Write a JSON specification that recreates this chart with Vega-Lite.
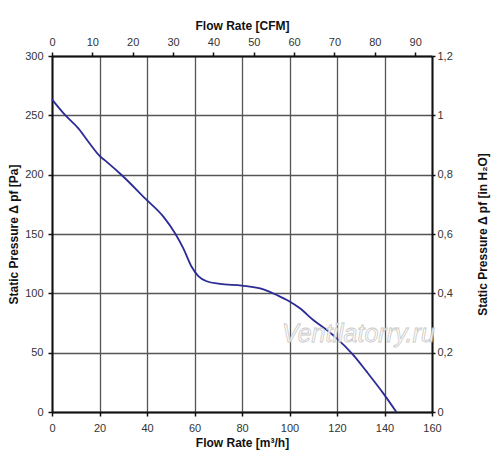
{
  "$schema": "https://vega.github.io/schema/vega-lite/v6.json",
  "autosize": "none",
  "padding": {"left": 52, "top": 56, "right": 68, "bottom": 58},
  "width": 380,
  "height": 356,
  "background": "white",
  "config": {
    "view": {"stroke": null},
    "font": "Liberation Sans",
    "axis": {
      "domainColor": "#111111",
      "domainWidth": 2,
      "tickColor": "#111111",
      "tickSize": 4,
      "tickWidth": 1.5,
      "labelFlush": false,
      "labelOverlap": false,
      "labelFont": "Liberation Sans",
      "labelFontSize": 11,
      "labelColor": "#333333",
      "titleFont": "Liberation Sans",
      "titleFontSize": 12,
      "titleFontWeight": "bold",
      "titleColor": "#111111",
      "gridColor": "#555555",
      "gridWidth": 1.3,
      "gridOpacity": 1
    }
  },
  "layer": [
    {
      "layer": [
        {
          "data": {
            "values": [
              {"q": 0, "p": 263.5},
              {"q": 5.5, "p": 250.3},
              {"q": 11.1, "p": 239},
              {"q": 15.3, "p": 227.8},
              {"q": 20.2, "p": 215.5},
              {"q": 22.3, "p": 212},
              {"q": 29.3, "p": 199.7},
              {"q": 39.2, "p": 180},
              {"q": 46.9, "p": 164.6},
              {"q": 51.8, "p": 150.6},
              {"q": 55.3, "p": 137.9},
              {"q": 58.8, "p": 122.4},
              {"q": 61.6, "p": 114.5},
              {"q": 65.1, "p": 110.2},
              {"q": 70.7, "p": 108},
              {"q": 79.9, "p": 106.5},
              {"q": 89, "p": 103.4},
              {"q": 94.6, "p": 98.6},
              {"q": 99.5, "p": 93.8},
              {"q": 104.4, "p": 87.4},
              {"q": 110, "p": 77.5},
              {"q": 115.7, "p": 69.1},
              {"q": 119.9, "p": 62.1},
              {"q": 126.9, "p": 48},
              {"q": 132.5, "p": 34},
              {"q": 139.5, "p": 15.7},
              {"q": 145, "p": 0}
            ]
          },
          "mark": {"type": "line", "color": "#2b2b96", "strokeWidth": 1.8, "interpolate": "monotone"},
          "encoding": {
            "x": {
              "field": "q", "type": "quantitative",
              "scale": {"domain": [0, 160], "nice": false, "zero": false},
              "axis": {
                "orient": "bottom",
                "values": [0, 20, 40, 60, 80, 100, 120, 140, 160],
                "title": "Flow Rate [m³/h]",
                "labelPadding": 6,
                "titlePadding": 4,
                "grid": true
              }
            },
            "y": {
              "field": "p", "type": "quantitative",
              "scale": {"domain": [0, 300], "nice": false},
              "axis": {
                "orient": "left",
                "values": [0, 50, 100, 150, 200, 250, 300],
                "title": "Static Pressure Δ pf [Pa]",
                "labelPadding": 5,
                "titlePadding": 4,
                "grid": true
              }
            }
          }
        },
        {
          "data": {"values": [{"q": 129, "p": 66, "label": "Ventilatorry.ru"}]},
          "mark": {"type": "text", "font": "Liberation Sans", "fontStyle": "italic", "fontSize": 25, "fill": "#ffffff", "stroke": "#c4c4c4", "strokeWidth": 0.8, "opacity": 0.9},
          "encoding": {
            "x": {"field": "q", "type": "quantitative"},
            "y": {"field": "p", "type": "quantitative"},
            "text": {"field": "label"}
          }
        }
      ]
    },
    {
      "data": {"values": [{"cfm": 0, "inh2o": 0}, {"cfm": 94.17, "inh2o": 1.2}]},
      "mark": {"type": "point", "opacity": 0},
      "encoding": {
        "x": {
          "field": "cfm", "type": "quantitative",
          "scale": {"domain": [0, 94.17], "nice": false},
          "axis": {
            "orient": "top",
            "values": [0, 10, 20, 30, 40, 50, 60, 70, 80, 90],
            "title": "Flow Rate [CFM]",
            "labelPadding": 5,
            "titlePadding": 4,
            "grid": false
          }
        },
        "y": {
          "field": "inh2o", "type": "quantitative",
          "scale": {"domain": [0, 1.2], "nice": false},
          "axis": {
            "orient": "right",
            "values": [0, 0.2, 0.4, 0.6, 0.8, 1, 1.2],
            "labelExpr": "replace(toString(datum.value), '.', ',')",
            "title": "Static Pressure Δ pf [in H₂O]",
            "titleAngle": 270,
            "titleBaseline": "top",
            "tickSize": 3,
            "labelPadding": 2,
            "titlePadding": 25,
            "grid": false
          }
        }
      }
    }
  ],
  "resolve": {"scale": {"x": "independent", "y": "independent"}}
}
